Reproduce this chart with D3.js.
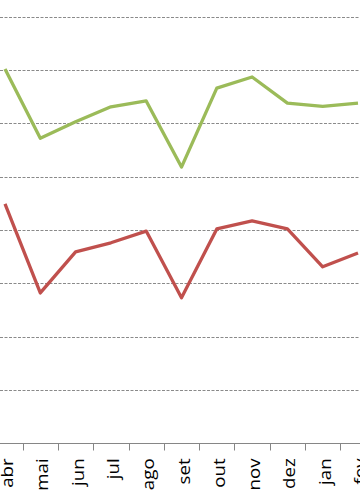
<!DOCTYPE html>
<html>
<head>
<meta charset="utf-8">
<script src="https://cdn.jsdelivr.net/npm/d3@7"></script>
<style>
  body { margin: 0; background: #fff; }
  .tick-label { font-family: "Open Sans", sans-serif; font-size: 16px; fill: #000; }
</style>
</head>
<body>
<div id="chart"></div>
<script>
// data
const months = ["abr", "mai", "jun", "jul", "ago", "set", "out", "nov", "dez", "jan", "fev"];
const greenValues = [7.02, 5.72, 6.03, 6.31, 6.42, 5.18, 6.66, 6.87, 6.38, 6.32, 6.38];
const redValues = [4.49, 2.82, 3.59, 3.76, 3.98, 2.73, 4.02, 4.17, 4.02, 3.31, 3.57];
const gridValues = [1, 2, 3, 4, 5, 6, 7, 8];

const svgWidth = 360,
    svgHeight = 504,
    baseY = 443.3,
    topY = 16.7,
    step = 35.3,
    firstCenter = 5;

let svg = d3.select("#chart").append("svg")
    .attr("width", svgWidth)
    .attr("height", svgHeight);

// scales (plot is cropped on both sides)
let xScale = d3.scaleBand()
    .domain(months)
    .range([firstCenter - step / 2, firstCenter - step / 2 + step * months.length])
    .padding(0);
let yScale = d3.scaleLinear()
    .domain([0, 8])
    .range([baseY, topY]);

// dashed gridlines
svg.selectAll("line.grid")
    .data(gridValues)
    .join("line")
    .attr("class", "grid")
    .attr("x1", 0)
    .attr("x2", svgWidth)
    .attr("y1", (d) => Math.round(yScale(d)) + 0.5)
    .attr("y2", (d) => Math.round(yScale(d)) + 0.5)
    .attr("stroke", "#8a8a8a")
    .attr("stroke-width", 1)
    .attr("stroke-dasharray", "3,1.5");

// x axis line + ticks at band edges
let baseLine = Math.round(baseY) + 0.5;
svg.append("line")
    .attr("x1", 0)
    .attr("x2", svgWidth)
    .attr("y1", baseLine)
    .attr("y2", baseLine)
    .attr("stroke", "#868686")
    .attr("stroke-width", 1);

svg.selectAll("line.xtick")
    .data(months.slice(1))
    .join("line")
    .attr("class", "xtick")
    .attr("x1", (d) => Math.round(xScale(d)) + 0.5)
    .attr("x2", (d) => Math.round(xScale(d)) + 0.5)
    .attr("y1", baseLine)
    .attr("y2", baseLine + 7)
    .attr("stroke", "#868686")
    .attr("stroke-width", 1);

// rotated month labels (source picture is stretched vertically a bit)
svg.selectAll("text.tick-label")
    .data(months)
    .join("text")
    .attr("class", "tick-label")
    .attr("transform", (d) => `translate(${xScale(d) + xScale.bandwidth() / 2 + 8}, ${baseY + 15}) scale(1, 1.17) rotate(-90)`)
    .attr("text-anchor", "end")
    .text((d) => d);

// lines
let line = d3.line()
    .x((d, i) => xScale(months[i]) + xScale.bandwidth() / 2)
    .y((d) => yScale(d));

svg.append("path")
    .datum(greenValues)
    .attr("d", line)
    .attr("fill", "none")
    .attr("stroke", "#9bbb59")
    .attr("stroke-width", 3.3)
    .attr("stroke-linejoin", "round");

svg.append("path")
    .datum(redValues)
    .attr("d", line)
    .attr("fill", "none")
    .attr("stroke", "#c0504d")
    .attr("stroke-width", 3.3)
    .attr("stroke-linejoin", "round");
</script>
</body>
</html>
